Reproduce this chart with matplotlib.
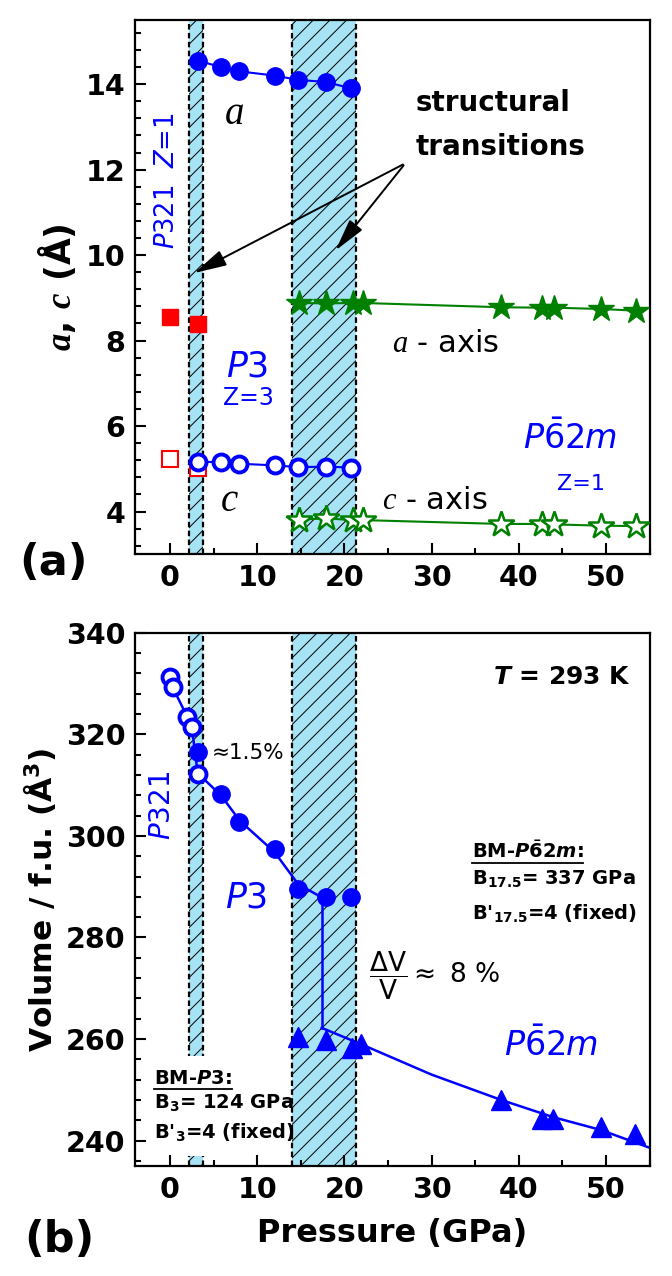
import matplotlib
matplotlib.use("Agg")
import matplotlib.pyplot as plt
from matplotlib.ticker import MultipleLocator
from matplotlib.lines import Line2D
from matplotlib.patches import Rectangle

plt.rcParams['font.family'] = ['DejaVu Sans']
plt.rcParams['font.weight'] = 'bold'
plt.rcParams['axes.labelweight'] = 'bold'
plt.rcParams['mathtext.fontset'] = 'custom'
plt.rcParams['mathtext.rm'] = 'DejaVu Sans:weight=normal'
plt.rcParams['mathtext.it'] = 'DejaVu Sans:italic:weight=normal'
plt.rcParams['mathtext.bf'] = 'DejaVu Sans:bold'
plt.rcParams['mathtext.bfit'] = 'DejaVu Sans:italic:bold'
plt.rcParams['mathtext.sf'] = 'Liberation Serif:italic:bold'
plt.rcParams['mathtext.tt'] = 'Liberation Serif:italic:weight=normal'
plt.rcParams['hatch.linewidth'] = 0.7
plt.rcParams['axes.linewidth'] = 1.6

BLUE = "#0000ff"
GREEN = "#008000"
RED = "#ff0000"
BAND = "#a6e3f4"

# transition regions (GPa)
bands = [(2.2, 3.8), (14.0, 21.3)]

# (a) lattice parameters (A)
p_p321 = [0.05, 3.2]
a_p321 = [8.56, 8.38]
c_p321 = [5.23, 5.02]
p_p3 = [3.2, 5.85, 7.95, 12.0, 14.7, 17.9, 20.8]
a_p3 = [14.55, 14.40, 14.30, 14.20, 14.10, 14.05, 13.90]
c_p3 = [5.17, 5.15, 5.12, 5.08, 5.04, 5.05, 5.03]
p_hex = [14.8, 17.9, 21.0, 22.1, 38.0, 42.7, 44.0, 49.4, 53.4]
a_hex = [8.88, 8.87, 8.88, 8.88, 8.78, 8.77, 8.77, 8.74, 8.70]
c_hex = [3.81, 3.84, 3.80, 3.80, 3.71, 3.71, 3.70, 3.67, 3.66]

# (b) volume per formula unit (A^3)
pv_p321 = [0.05, 0.3, 2.0, 2.5, 3.2]
v_p321 = [331.2, 329.3, 323.4, 321.5, 312.1]
pv_p3 = [3.2, 5.85, 7.95, 12.0, 14.7, 17.9, 20.8]
v_p3 = [316.6, 308.3, 302.8, 297.4, 289.5, 287.9, 287.9]
pv_hex = [14.7, 17.9, 20.9, 21.9, 38.0, 42.7, 43.9, 49.4, 53.3]
v_hex = [260.5, 259.8, 258.2, 259.0, 247.9, 244.3, 244.3, 242.7, 241.3]

# Birch-Murnaghan fit curves
fit_p3_p = [3.2, 5.85, 8.0, 12.0, 14.7, 17.4]
fit_p3_v = [312.3, 308.0, 303.0, 296.8, 290.5, 287.9]
jump_p = [17.4, 17.4]
jump_v = [287.9, 262.2]
fit_hex_p = [17.4, 21.9, 30.0, 38.0, 44.0, 49.4, 55.0]
fit_hex_v = [262.2, 259.0, 253.0, 248.0, 244.6, 242.1, 238.6]

fig = plt.figure(figsize=(6.72, 12.76), dpi=100)
ax1 = fig.add_axes([0.201, 0.5656, 0.7656, 0.4187])
ax2 = fig.add_axes([0.201, 0.0862, 0.7656, 0.4179])


def style(ax):
    for lo, hi in bands:
        ax.axvspan(lo, hi, facecolor=BAND, edgecolor='black', hatch='//', lw=0, zorder=0)
        for x in (lo, hi):
            ax.axvline(x, color='black', ls=(0, (2.5, 1.5)), lw=1.6, zorder=1)
    ax.set_xlim(-4, 55)
    ax.xaxis.set_major_locator(MultipleLocator(10))
    ax.xaxis.set_minor_locator(MultipleLocator(5))
    ax.tick_params(which='both', direction='in', width=1.5, labelsize=20.5)
    ax.tick_params(which='major', length=8, pad=7)
    ax.tick_params(which='minor', length=4)


style(ax1)
style(ax2)

# ---- panel (a)
ax1.set_ylim(3, 15.5)
ax1.yaxis.set_major_locator(MultipleLocator(2))
ax1.yaxis.set_minor_locator(MultipleLocator(0.4))

ax1.plot(p_p321, c_p321, 's', mfc='white', mec=RED, mew=1.5, ms=11, zorder=2)
ax1.plot(p_p321, a_p321, 's', color=RED, ms=12, zorder=3)
ax1.plot(p_p3, a_p3, '-o', color=BLUE, ms=12.5, lw=1.5, zorder=3)
ax1.plot(p_p3, c_p3, '-o', color=BLUE, mfc='white', mew=2.8, ms=11.5, lw=1.5, zorder=3)
ax1.plot(p_hex, a_hex, '-*', color=GREEN, ms=19, lw=1.5, zorder=3)
ax1.plot(p_hex, c_hex, '-*', color=GREEN, mfc='white', mew=1.8, ms=19, lw=1.5, zorder=3)

ax1.set_ylabel(r"$\mathsf{a}$, $\mathsf{c}$ (Å)", fontsize=25)
ax1.yaxis.set_label_coords(-0.11, 0.5)

ax1.text(7.4, 13.28, "a", family='Liberation Serif', style='italic', weight='normal',
         fontsize=28, ha='center', va='center')
ax1.text(6.8, 4.23, "c", family='Liberation Serif', style='italic', weight='normal',
         fontsize=28, ha='center', va='center')
ax1.text(28.2, 13.55, "structural", fontsize=20, ha='left', va='center')
ax1.text(28.2, 12.54, "transitions", fontsize=20, ha='left', va='center')
for end in [(2.5, 9.55), (18.8, 10.06)]:
    ax1.annotate('', xy=end, xytext=(27.0, 12.15),
                 arrowprops=dict(arrowstyle='-|>,head_length=1.0,head_width=0.25',
                                 color='black', lw=1.4, mutation_scale=20))
ax1.text(-0.35, 11.74, r"$P$321  $Z$=1", color=BLUE, weight='normal', fontsize=18.5,
         rotation=90, ha='center', va='center')
ax1.text(8.87, 7.39, r"$P$3", color=BLUE, weight='normal', fontsize=25,
         ha='center', va='center')
ax1.text(9.0, 6.65, "Z=3", color=BLUE, weight='normal', fontsize=17,
         ha='center', va='center')
ax1.text(25.5, 7.94, r"$\mathtt{a}$ - axis", weight='normal', fontsize=22,
         ha='left', va='center')
ax1.text(24.3, 4.27, r"$\mathtt{c}$ - axis", weight='normal', fontsize=22,
         ha='left', va='center')
ax1.text(45.85, 5.71, r"$P\bar{6}2m$", color=BLUE, weight='normal', fontsize=24,
         ha='center', va='center')
ax1.text(47.1, 4.64, "Z=1", color=BLUE, weight='normal', fontsize=16,
         ha='center', va='center')

# ---- panel (b)
ax2.set_ylim(235, 340)
ax2.yaxis.set_major_locator(MultipleLocator(20))
ax2.yaxis.set_minor_locator(MultipleLocator(4))

# white box behind the BM-P3 note
ax2.add_patch(Rectangle((1.5, 237.0), 3.0, 19.6, facecolor='white', edgecolor='none', zorder=1.5))

ax2.plot(pv_p321, v_p321, '-o', color=BLUE, mfc='white', mew=2.8, ms=11.5, lw=1.8, zorder=3)
ax2.plot(fit_p3_p, fit_p3_v, '-', color=BLUE, lw=1.8, zorder=2)
ax2.plot(jump_p, jump_v, '-', color=BLUE, lw=1.8, zorder=2)
ax2.plot(fit_hex_p, fit_hex_v, '-', color=BLUE, lw=1.8, zorder=2)
ax2.plot(pv_p3, v_p3, 'o', color=BLUE, ms=12.5, zorder=3)
ax2.plot(pv_hex, v_hex, '^', color=BLUE, ms=15, zorder=3)

ax2.set_xlabel("Pressure (GPa)", fontsize=23, labelpad=10)
ax2.set_ylabel("Volume / f.u. (Å$^{\\mathbf{3}}$)", fontsize=22.5)
ax2.yaxis.set_label_coords(-0.15, 0.5)

ax2.text(52.9, 331.2, r"$\mathbfit{T}$ = 293 K", fontsize=18, ha='right', va='center')
ax2.text(4.83, 316.3, "≈1.5%", weight='normal', fontsize=15.5, ha='left', va='center')
ax2.text(-0.94, 306.0, r"$P$321", color=BLUE, weight='normal', fontsize=20,
         rotation=90, ha='center', va='center')
ax2.text(8.77, 287.9, r"$P$3", color=BLUE, weight='normal', fontsize=25,
         ha='center', va='center')
ax2.text(43.75, 258.9, r"$P\bar{6}2m$", color=BLUE, weight='normal', fontsize=24,
         ha='center', va='center')
ax2.text(22.8, 272.4, r"$\dfrac{\Delta\mathrm{V}}{\mathrm{V}}\approx$ 8 %", weight='normal',
         fontsize=19, ha='left', va='center')

ul = []
ul.append(ax2.text(34.6, 297.1, r"BM-$\mathbfit{P}\bar{\mathbf{6}}\mathbf{2}\mathbfit{m}$:",
                   fontsize=14, ha='left', va='center', zorder=4))
ax2.text(34.6, 291.5, r"B$_{\mathbf{17.5}}$= 337 GPa", fontsize=14, ha='left', va='center')
ax2.text(34.6, 284.6, r"B'$_{\mathbf{17.5}}$=4 (fixed)", fontsize=14, ha='left', va='center')
ul.append(ax2.text(-1.83, 252.3, r"BM-$\mathbfit{P}$3:", fontsize=14, ha='left',
                   va='center', zorder=4))
ax2.text(-1.83, 247.4, r"B$_{\mathbf{3}}$= 124 GPa", fontsize=14, ha='left', va='center', zorder=4)
ax2.text(-1.83, 241.5, r"B'$_{\mathbf{3}}$=4 (fixed)", fontsize=14, ha='left', va='center', zorder=4)

fig.text(0.080, 0.5585, "(a)", fontsize=31, ha='center', va='center')
fig.text(0.089, 0.0282, "(b)", fontsize=31, ha='center', va='center')

# underline the BM headers
fig.canvas.draw()
r = fig.canvas.get_renderer()
W, H = fig.bbox.width, fig.bbox.height
for t in ul:
    bb = t.get_window_extent(r)
    fig.add_artist(Line2D([bb.x0 / W, bb.x1 / W], [(bb.y0 - 1) / H] * 2,
                          color='black', lw=1.3, transform=fig.transFigure))

fig.savefig("out.png", dpi=100)
